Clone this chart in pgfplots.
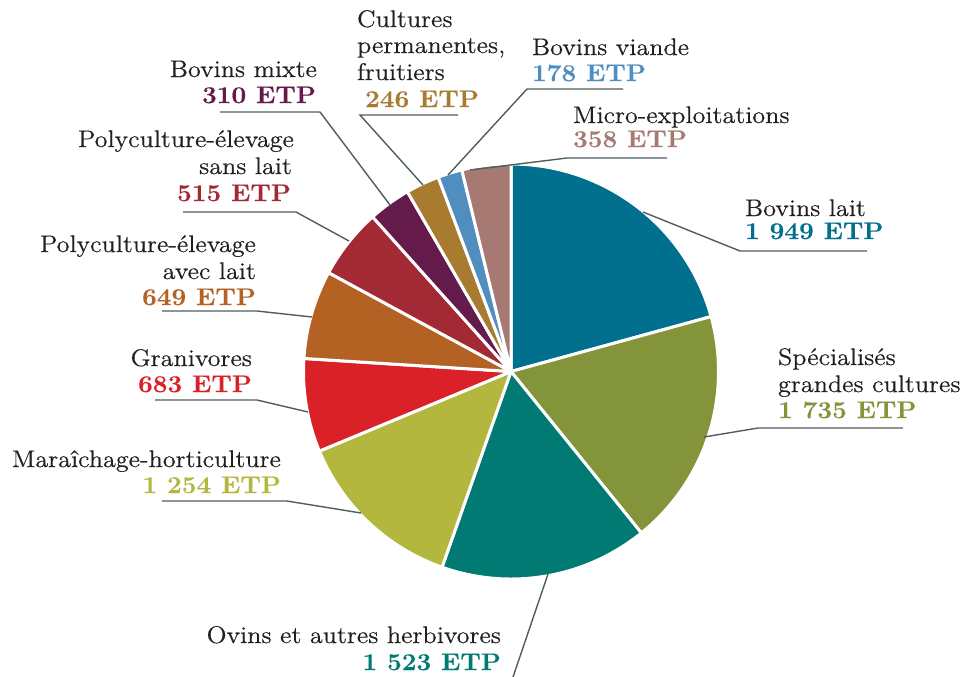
\documentclass[border=0pt]{standalone}
\usepackage{fontspec}
\setmainfont{Latin Modern Roman}[FakeStretch=1.09, UprightFeatures={FakeBold=0.5}, BoldFeatures={FakeBold=0.4}]
\usepackage{pgfplots}
\usepackage{pgfplotstable}
\pgfplotsset{compat=1.18}

\definecolor{c1}{RGB}{0,112,142}
\definecolor{c2}{RGB}{132,148,58}
\definecolor{c3}{RGB}{0,122,114}
\definecolor{c4}{RGB}{179,183,62}
\definecolor{c5}{RGB}{218,33,40}
\definecolor{c6}{RGB}{180,98,36}
\definecolor{c7}{RGB}{163,41,52}
\definecolor{c8}{RGB}{100,26,75}
\definecolor{c9}{RGB}{168,123,48}
\definecolor{c10}{RGB}{79,142,190}
\definecolor{c11}{RGB}{166,122,115}
\definecolor{txt}{RGB}{35,31,32}
\definecolor{lead}{RGB}{78,94,92}

\pgfplotstableread{
value colour
1949 c1
1735 c2
1523 c3
1254 c4
683 c5
649 c6
515 c7
310 c8
246 c9
178 c10
358 c11
}\piedata

\newcommand\lbl{\fontsize{12}{14}\selectfont\color{txt}}
\newcommand\num{\fontsize{12}{14}\selectfont\bfseries}

\begin{document}
\begin{tikzpicture}
\begin{axis}[x=0.5pt, y=0.5pt, y dir=reverse,
  xmin=0, xmax=962, ymin=0, ymax=676,
  hide axis, clip=false,
  every node/.append style={inner sep=0pt, outer sep=0pt}]
% total
\def\tot{0}
\pgfplotsforeachungrouped \i in {0,...,10}{%
  \pgfplotstablegetelem{\i}{value}\of\piedata
  \pgfmathsetmacro\tot{\tot+\pgfplotsretval}%
}
\def\cum{0}
\pgfplotsforeachungrouped \i in {0,...,10}{%
  \pgfplotstablegetelem{\i}{value}\of\piedata \let\v\pgfplotsretval
  \pgfplotstablegetelem{\i}{colour}\of\piedata \let\c\pgfplotsretval
  \pgfmathsetmacro\sa{90-360*(\cum/\tot)}%
  \pgfmathsetmacro\cum{\cum+\v}%
  \pgfmathsetmacro\ea{90-360*(\cum/\tot)}%
  \edef\tmp{\noexpand\addplot[fill=\c, draw=white, line width=1.5pt, line join=round,
     domain=\ea:\sa, samples=90] ({511+207.5*cos(x)},{371.5-207.5*sin(x)}) -- (axis cs:511,371.5) -- cycle;}%
  \tmp
}

% leader lines
\begin{scope}[draw=lead, line width=0.7pt]
\draw (axis cs:643,212) -- (axis cs:740,251) -- (axis cs:867,251);
\draw (axis cs:704,437) -- (axis cs:758,428) -- (axis cs:903,428);
\draw (axis cs:548,574) -- (axis cs:512,680);
\draw (axis cs:361,513) -- (axis cs:287,501) -- (axis cs:162,501);
\draw (axis cs:308,412) -- (axis cs:257,400) -- (axis cs:155,400);
\draw (axis cs:312,317) -- (axis cs:257,311) -- (axis cs:162,311);
\draw (axis cs:349,241) -- (axis cs:296,212) -- (axis cs:183,212);
\draw (axis cs:390,205) -- (axis cs:320,112) -- (axis cs:220,112);
\draw (axis cs:423,185) -- (axis cs:360,115) -- (axis cs:458,115);
\draw (axis cs:448,175) -- (axis cs:527,89) -- (axis cs:623,89);
\draw (axis cs:470,170) -- (axis cs:567,158) -- (axis cs:667,158);
\end{scope}

% labels
\node[anchor=base west, font=\lbl] at (axis cs:738,216) {Bovins lait};
\node[anchor=base west, font=\num, text=c1] at (axis cs:738,239) {1 949 ETP};

\node[anchor=base west, font=\lbl] at (axis cs:771,365) {Spécialisés};
\node[anchor=base west, font=\lbl] at (axis cs:771,392) {grandes cultures};
\node[anchor=base west, font=\num, text=c2] at (axis cs:771,418) {1 735 ETP};

\node[anchor=base east, font=\lbl] at (axis cs:508,643) {Ovins et autres herbivores};
\node[anchor=base east, font=\num, text=c3] at (axis cs:508,670) {1 523 ETP};

\node[anchor=base east, font=\lbl] at (axis cs:288,467) {Maraîchage-horticulture};
\node[anchor=base east, font=\num, text=c4] at (axis cs:288,493) {1 254 ETP};

\node[anchor=base east, font=\lbl] at (axis cs:259,366) {Granivores};
\node[anchor=base east, font=\num, text=c5] at (axis cs:259,392) {683 ETP};

\node[anchor=base east, font=\lbl] at (axis cs:263,252) {Polyculture-élevage};
\node[anchor=base east, font=\lbl] at (axis cs:263,279) {avec lait};
\node[anchor=base east, font=\num, text=c6] at (axis cs:263,305) {649 ETP};

\node[anchor=base east, font=\lbl] at (axis cs:301,147) {Polyculture-élevage};
\node[anchor=base east, font=\lbl] at (axis cs:299,174) {sans lait};
\node[anchor=base east, font=\num, text=c7] at (axis cs:298,201) {515 ETP};

\node[anchor=base east, font=\lbl] at (axis cs:324,77) {Bovins mixte};
\node[anchor=base east, font=\num, text=c8] at (axis cs:323,103) {310 ETP};

\node[anchor=base west, font=\lbl] at (axis cs:350,27) {Cultures};
\node[anchor=base west, font=\lbl] at (axis cs:350,53) {permanentes,};
\node[anchor=base west, font=\lbl] at (axis cs:350,80) {fruitiers};
\node[anchor=base west, font=\num, text=c9] at (axis cs:358,107) {246 ETP};

\node[anchor=base west, font=\lbl] at (axis cs:525,55) {Bovins viande};
\node[anchor=base west, font=\num, text=c10] at (axis cs:525,81) {178 ETP};

\node[anchor=base west, font=\lbl] at (axis cs:566,123) {Micro-exploitations};
\node[anchor=base west, font=\num, text=c11] at (axis cs:566,147) {358 ETP};

\path (axis cs:0,0) coordinate (tl) (axis cs:962,676) coordinate (br);
\end{axis}
\pgfresetboundingbox
\useasboundingbox (tl) rectangle (br);
\end{tikzpicture}
\end{document}
